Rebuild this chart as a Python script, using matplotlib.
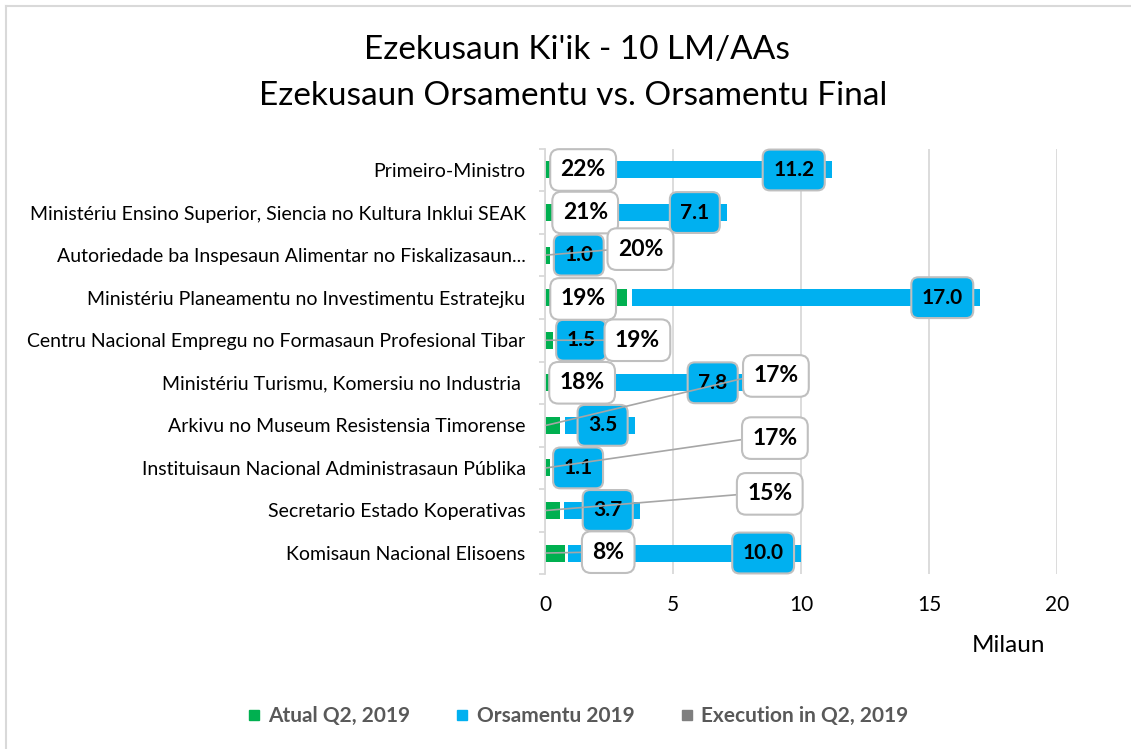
import matplotlib
matplotlib.use("Agg")
import matplotlib.pyplot as plt
from matplotlib.lines import Line2D
import numpy as np

plt.rcParams["font.family"] = ["Lato", "DejaVu Sans"]

GREEN = "#00B050"
BLUE = "#00B0F0"
GREY = "#7F7F7F"
LIGHT = "#D9D9D9"
BOX_EDGE = "#BFBFBF"

# ── data (Milaun USD) ──────────────────────────────────────────────────
categories = [
    "Primeiro-Ministro",
    "Ministériu Ensino Superior, Siencia no Kultura Inklui SEAK",
    "Autoriedade ba Inspesaun Alimentar no Fiskalizasaun...",
    "Ministériu Planeamentu no Investimentu Estratejku",
    "Centru Nacional Empregu no Formasaun Profesional Tibar",
    "Ministériu Turismu, Komersiu no Industria ",
    "Arkivu no Museum Resistensia Timorense",
    "Instituisaun Nacional Administrasaun Públika",
    "Secretario Estado Koperativas",
    "Komisaun Nacional Elisoens",
]
budget = [11.2, 7.1, 1.0, 17.0, 1.5, 7.8, 3.5, 1.1, 3.7, 10.0]
actual = [2.5, 1.5, 0.2, 3.2, 0.3, 1.4, 0.6, 0.2, 0.6, 0.8]
execution = [0.22, 0.21, 0.20, 0.19, 0.19, 0.18, 0.17, 0.17, 0.15, 0.08]

# where the % boxes sit (dragged by hand in the original)
pct_box_pos = [(1.49, 0.0), (1.57, 1.0), (3.73, 1.86), (1.49, 3.03), (3.61, 4.0),
               (1.45, 5.0), (9.02, 4.84), (8.98, 6.30), (8.78, 7.61), (2.47, 8.98)]

W, H = 1131, 749
fig = plt.figure(figsize=(W / 100, H / 100), dpi=100)
ax = fig.add_axes([545 / W, 1 - 574.3 / H, (1057 - 545) / W, (574.3 - 148.7) / H])

y = np.arange(len(categories))
act = np.array(actual)
exe = np.array(execution)
bud = np.array(budget)

# stacked: actual, (hidden) execution, rest of budget
ax.barh(y, act, height=0.4, color=GREEN, zorder=2)
ax.barh(y, exe, left=act, height=0.4, color="none", zorder=2)
seg_left = act + exe
ax.barh(y, bud - seg_left, left=seg_left, height=0.4, color=BLUE, zorder=2)

# ── budget labels (inside end) ───────────────────────────────────────
pad = 0.5
fs_val = 15
for i in range(len(categories)):
    box = dict(boxstyle=f"round,pad={pad},rounding_size=0.35", fc=BLUE, ec=BOX_EDGE, lw=1.5)
    if bud[i] > 2.5:
        ax.annotate(f"{bud[i]:.1f}", xy=(bud[i], i), xytext=(-(5 + pad * fs_val), 0),
                    textcoords="offset points", ha="right", va="center",
                    fontsize=fs_val, fontweight="bold", bbox=box, zorder=4)
    else:
        ax.annotate(f"{bud[i]:.1f}", xy=(seg_left[i], i), xytext=(pad * fs_val - 1, 0),
                    textcoords="offset points", ha="left", va="center",
                    fontsize=fs_val, fontweight="bold", bbox=box, zorder=4)

# ── execution % labels ───────────────────────────────────────────────
for i, (px, py) in enumerate(pct_box_pos):
    leader = px > 2
    ax.annotate(f"{round(exe[i] * 100)}%", xy=(0.05, i), xytext=(px, py),
                textcoords="data", ha="center", va="center",
                fontsize=16.5, fontweight="bold",
                bbox=dict(boxstyle="round,pad=0.45,rounding_size=0.4", fc="white",
                          ec=BOX_EDGE, lw=1.5),
                arrowprops=dict(arrowstyle="-", color="#A6A6A6", lw=1.2,
                                relpos=(0, 0.5), shrinkA=0, shrinkB=0) if leader else None,
                zorder=6)

ax.set_xlim(0, 20)
ax.set_ylim(len(categories) - 0.5, -0.5)
ax.set_xticks([0, 5, 10, 15, 20])
ax.set_yticks(y)
ax.set_yticklabels(categories, fontsize=14)
ax.set_yticks(np.arange(-0.5, len(categories), 1), minor=True)
ax.tick_params(axis="x", length=0, pad=15, labelsize=15)
ax.tick_params(axis="y", which="major", length=0, pad=14)
ax.tick_params(axis="y", which="minor", length=4, color=LIGHT, width=1.3)
ax.grid(True, axis="x", color=LIGHT, lw=1.3, zorder=0)
ax.set_axisbelow(True)
for s in ["top", "right", "bottom"]:
    ax.spines[s].set_visible(False)
ax.spines["left"].set_color(LIGHT)
ax.spines["left"].set_linewidth(1.3)

# ── titles & text ────────────────────────────────────────────────────
fig.text(577 / W, 1 - 50 / H, "Ezekusaun Ki'ik - 10 LM/AAs", ha="center", va="center", fontsize=24)
fig.text(573 / W, 1 - 96 / H, "Ezekusaun Orsamentu vs. Orsamentu Final", ha="center", va="center", fontsize=24)
fig.text(1009 / W, 1 - 645 / H, "Milaun", ha="center", va="center", fontsize=17.5)

handles = [Line2D([], [], marker="s", ls="", color=c, markersize=6.5) for c in (GREEN, BLUE, GREY)]
fig.legend(handles, ["Atual Q2, 2019", "Orsamentu 2019", "Execution in Q2, 2019"],
           loc="center", bbox_to_anchor=(578 / W, 1 - 716 / H), ncol=3, frameon=False,
           prop={"weight": "bold", "size": 15}, labelcolor="#595959",
           handlelength=0.6, handletextpad=0.4, columnspacing=2.2)

# chart area border (cropped at right/bottom)
fig.add_artist(Line2D([6 / W, 1], [1 - 6 / H, 1 - 6 / H], color=LIGHT, lw=1.5, transform=fig.transFigure))
fig.add_artist(Line2D([6 / W, 6 / W], [0, 1 - 6 / H], color=LIGHT, lw=1.5, transform=fig.transFigure))

fig.savefig("out.png", dpi=100)
